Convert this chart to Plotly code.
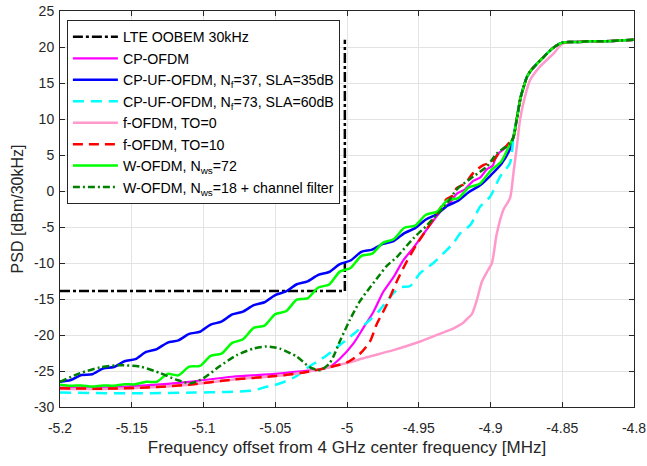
import plotly.graph_objects as go

# ---------------- data ----------------
X_TICKS = [-5.2, -5.15, -5.1, -5.05, -5.0, -4.95, -4.9, -4.85, -4.8]
X_TICK_LABELS = ["-5.2", "-5.15", "-5.1", "-5.05", "-5", "-4.95", "-4.9", "-4.85", "-4.8"]
Y_TICKS = [-30, -25, -20, -15, -10, -5, 0, 5, 10, 15, 20, 25]
Y_TICK_LABELS = ["-30", "-25", "-20", "-15", "-10", "-5", "0", "5", "10", "15", "20", "25"]

# LTE OOBEM mask
OOBEM_F = [-5.2, -5.0015, -5.0015]
OOBEM_V = [-13.9, -13.9, 21.0]

# common steep rise + in-band plateau
TAIL_F = [-4.884, -4.8817, -4.879, -4.877, -4.8747, -4.872, -4.868, -4.8635, -4.8585,
          -4.854, -4.85, -4.845, -4.84, -4.83, -4.82, -4.81, -4.8]
TAIL_V = [7.5, 10.0, 13.0, 14.4, 15.8, 16.7, 17.6, 18.5, 19.5,
          20.2, 20.6, 20.7, 20.7, 20.8, 20.8, 20.9, 21.0]

# CP-OFDM
MAG_F = [-5.2, -5.17, -5.14, -5.11, -5.08, -5.05, -5.03, -5.02, -5.012, -5.005, -4.9956,
         -4.9886, -4.9816, -4.9747, -4.9677, -4.9607, -4.9538, -4.9468, -4.9398, -4.9328,
         -4.928, -4.9236, -4.918, -4.912, -4.907, -4.9026, -4.8985, -4.8956, -4.8865]
MAG_V = [-27.3, -27.3, -27.0, -26.5, -25.8, -25.4, -25.0, -24.8, -24.4, -23.3, -21.2,
         -19.0, -16.8, -14.0, -12.0, -9.6, -7.9, -6.0, -4.1, -2.4,
         -1.6, -0.4, 0.2, 1.4, 1.9, 3.0, 3.5, 5.0, 6.5]

# frequency points for the rippled UF-OFDM / W-OFDM curves
RIP_F = [-5.2, -5.1925, -5.185, -5.1775, -5.17, -5.1625, -5.155, -5.1475, -5.14, -5.1325,
         -5.125, -5.1175, -5.11, -5.1025, -5.095, -5.0875, -5.08, -5.0725, -5.065, -5.0575,
         -5.05, -5.0425, -5.035, -5.0275, -5.02, -5.0125, -5.005, -4.9975, -4.99, -4.9825,
         -4.975, -4.9675, -4.96, -4.9525, -4.945, -4.9375, -4.93, -4.9225, -4.915, -4.9075,
         -4.9, -4.8925, -4.8865]

# CP-UF-OFDM, Nf=37
UF37_V = [-26.5, -26.25, -25.55, -25.45, -24.65, -24.45, -23.65, -23.35, -22.35, -21.95,
          -21.05, -20.75, -19.85, -19.55, -18.55, -18.15, -17.15, -16.75, -15.85, -15.45,
          -14.45, -13.95, -12.95, -12.55, -11.65, -11.25, -10.15, -9.65, -8.45, -8.15,
          -7.35, -6.95, -5.85, -5.15, -3.95, -3.25, -2.05, -1.35, -0.15, 0.75,
          2.15, 3.75, 5.8]

# CP-UF-OFDM, Nf=73
UF73_F = [-5.2, -5.15, -5.107, -5.084, -5.065, -5.058, -5.051, -5.045, -5.036, -5.028,
          -5.02, -5.014, -5.005, -4.9956, -4.984, -4.977, -4.97, -4.963, -4.956, -4.949,
          -4.9398, -4.9305, -4.926, -4.9212, -4.914, -4.9073, -4.9003, -4.8933, -4.8864]
UF73_V = [-28.0, -28.1, -28.0, -27.9, -27.7, -27.3, -27.0, -26.6, -25.8, -24.6,
          -23.6, -22.8, -21.4, -19.9, -17.9, -16.5, -14.7, -13.4, -13.2, -11.4,
          -10.0, -8.2, -7.3, -5.9, -4.7, -2.2, -0.8, 2.0, 3.9]

# f-OFDM, TO=0
FO0_F = [-5.2, -5.17, -5.14, -5.11, -5.08, -5.05, -5.03, -5.015, -5.0, -4.9863, -4.9677,
         -4.949, -4.935, -4.926, -4.919, -4.9165, -4.913, -4.9096, -4.906, -4.9026, -4.899,
         -4.8957, -4.891, -4.8864, -4.884, -4.8817, -4.8794, -4.876, -4.8724, -4.8654,
         -4.856, -4.8503, -4.845, -4.84, -4.83, -4.82, -4.81, -4.8]
FO0_V = [-27.5, -27.5, -27.3, -26.9, -26.2, -25.7, -25.2, -24.6, -23.9, -23.1, -22.1,
         -20.9, -19.8, -19.1, -18.3, -17.8, -17.1, -15.2, -12.6, -11.3, -10.0,
         -6.0, -2.6, -1.0, 2.5, 6.1, 9.9, 13.1, 15.4, 17.3,
         19.1, 20.4, 20.7, 20.7, 20.8, 20.8, 20.9, 21.0]

# f-OFDM, TO=10
FO10_F = [-5.2, -5.17, -5.14, -5.11, -5.08, -5.05, -5.03, -5.015, -5.0, -4.991, -4.984,
          -4.9793, -4.9723, -4.9654, -4.9584, -4.9514, -4.9444, -4.9375, -4.9305, -4.926,
          -4.9236, -4.918, -4.912, -4.905, -4.899, -4.8933, -4.8887]
FO10_V = [-27.4, -27.45, -27.3, -26.9, -26.2, -25.7, -25.2, -24.6, -23.8, -22.6, -20.9,
          -18.5, -15.8, -12.6, -9.8, -7.4, -5.3, -3.2, -1.1, -0.6,
          0.4, 1.0, 2.5, 3.6, 4.0, 5.5, 6.3]

# W-OFDM, Nws=72
W72_V = [-26.9, -27.05, -27.0, -27.15, -27.0, -27.05, -26.85, -26.85, -26.5, -26.5,
         -25.4, -25.6, -24.4, -24.3, -22.9, -22.6, -21.1, -20.6, -19.0, -18.7,
         -17.1, -16.7, -15.1, -14.9, -13.4, -13.0, -11.2, -10.7, -9.0, -8.7,
         -7.2, -6.7, -5.1, -4.8, -3.3, -2.9, -1.3, -1.0, 0.5, 1.0,
         2.8, 4.1, 6.5]

# W-OFDM, Nws=18 + channel filter
W18_F = [-5.2, -5.186, -5.172, -5.158, -5.144, -5.13, -5.119, -5.109, -5.1, -5.0885,
         -5.0768, -5.0653, -5.056, -5.0467, -5.035, -5.0257, -5.0188, -5.0125, -5.0095,
         -5.0048, -4.998, -4.991, -4.984, -4.977, -4.9723, -4.9654, -4.9584, -4.9514,
         -4.9444, -4.9375, -4.9305, -4.9236, -4.912, -4.9026, -4.8956, -4.8865]
W18_V = [-26.5, -25.3, -24.5, -24.2, -24.4, -25.3, -26.2, -26.7, -26.0, -24.3,
         -22.8, -21.9, -21.6, -21.9, -23.0, -24.5, -24.9, -24.0, -23.0,
         -20.8, -17.9, -15.3, -13.4, -11.6, -10.4, -9.2, -7.6, -6.1,
         -4.8, -3.3, -1.8, 0.2, 2.0, 3.4, 5.2, 6.6]

NAMES = ["LTE OOBEM 30kHz",
         "CP-OFDM",
         "CP-UF-OFDM, N<sub>f</sub>=37, SLA=35dB",
         "CP-UF-OFDM, N<sub>f</sub>=73, SLA=60dB",
         "f-OFDM, TO=0",
         "f-OFDM, TO=10",
         "W-OFDM, N<sub>ws</sub>=72",
         "W-OFDM, N<sub>ws</sub>=18 + channel filter"]

# ---------------- figure ----------------
series = [
    (OOBEM_F, OOBEM_V, "#000000", "10px,3px,3px,3px", 2.5, "linear"),
    (MAG_F + TAIL_F, MAG_V + TAIL_V, "#ff00ff", "solid", 2.2, "spline"),
    (RIP_F + TAIL_F, UF37_V + TAIL_V, "#0000ff", "solid", 2.5, "spline"),
    (UF73_F + TAIL_F, UF73_V + TAIL_V, "#00ffff", "11px,7px", 2.5, "spline"),
    (FO0_F, FO0_V, "#ff99cc", "solid", 2.5, "spline"),
    (FO10_F + TAIL_F, FO10_V + TAIL_V, "#ff0000", "10px,6px", 2.5, "spline"),
    (RIP_F + TAIL_F, W72_V + TAIL_V, "#00ff00", "solid", 2.5, "spline"),
    (W18_F + TAIL_F, W18_V + TAIL_V, "#008000", "7px,3px,2px,3px", 2.5, "spline"),
]

fig = go.Figure()
for (xs, ys, col, dash, w, shape), name in zip(series, NAMES):
    line = dict(color=col, width=w, dash=dash, shape=shape)
    if shape == "spline":
        line["smoothing"] = 0.7
    fig.add_trace(go.Scatter(x=xs, y=ys, mode="lines", name=name, line=line))

FONT = "Liberation Sans, Arial, sans-serif"
axis_common = dict(
    showline=True, linecolor="#262626", linewidth=1, mirror="ticks",
    ticks="inside", ticklen=5, tickcolor="#262626",
    showgrid=True, gridcolor="#e3e3e3", gridwidth=1, zeroline=False,
    automargin=False,
    tickfont=dict(family=FONT, size=14, color="#262626"),
)

fig.update_layout(
    width=647, height=466,
    margin=dict(l=60, r=13, t=11, b=59),
    paper_bgcolor="white", plot_bgcolor="white",
    font=dict(family=FONT, color="#262626"),
    xaxis=dict(range=[-5.2, -4.8], tickvals=X_TICKS, ticktext=X_TICK_LABELS,
               ticklabelstandoff=8,
               title=dict(text="Frequency offset from 4 GHz center frequency [MHz]",
                          font=dict(size=17), standoff=6),
               **axis_common),
    yaxis=dict(range=[-30, 25], tickvals=Y_TICKS, ticktext=Y_TICK_LABELS,
               ticklabelstandoff=2,
               title=dict(text="PSD [dBm/30kHz]", font=dict(size=16), standoff=6),
               **axis_common),
    legend=dict(x=0.012, y=0.977, xanchor="left", yanchor="top",
                bgcolor="white", bordercolor="#262626", borderwidth=1,
                font=dict(size=14.2, color="#000000"), itemwidth=45,
                tracegroupgap=0),
    showlegend=True,
)

fig.write_html(
    "out.html",
    config={"displayModeBar": False},
    post_script="document.body.style.margin='0';document.body.style.padding='0';",
)
